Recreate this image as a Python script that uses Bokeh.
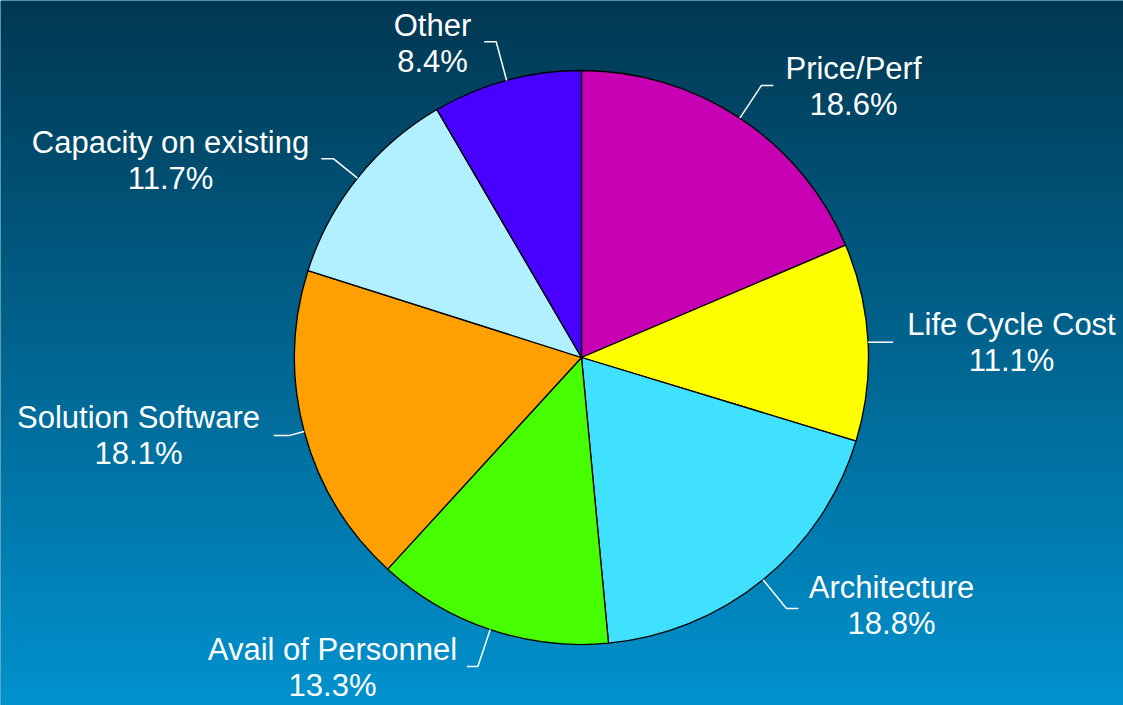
import numpy as np
from bokeh.plotting import figure
from bokeh.models import Range1d, ColumnDataSource
from bokeh.core.properties import value
from bokeh.embed import file_html
from bokeh.resources import INLINE

# ---- data ----
categories = ["Price/Perf", "Life Cycle Cost", "Architecture", "Avail of Personnel",
              "Solution Software", "Capacity on existing", "Other"]
shares = [18.6, 11.1, 18.8, 13.3, 18.1, 11.7, 8.4]
colors = ["#c800b4", "#ffff00", "#40e0ff", "#48ff00", "#ffa000", "#b0f0ff", "#4800ff"]

# ---- layout (page-pixel coordinates) ----
W, H = 1123, 705
CX, CY, R = 581, 357, 287
label_x = [853, 1011, 891, 332, 138, 170, 432]
label_base = [68, 324, 587, 649, 417, 142, 25]
line_gap = 36
leader_ext = [39, 0, 37, 39, 16, 31, 40]
leader_h = [12, 25, 12, -11, -15, -12, -12]

p = figure(width=W, height=H, output_backend="svg", toolbar_location=None,
           x_range=Range1d(0, W), y_range=Range1d(-H, 0),
           min_border=0)
p.axis.visible = False
p.grid.visible = False
p.outline_line_color = None
p.background_fill_color = "#00628f"
p.border_fill_color = "#00628f"

# gradient background
top = np.array([0, 56, 82])
bot = np.array([0, 146, 206])
t = np.linspace(0, 1, H)[:, None]  # row 0 = bottom
rgb = bot * (1 - t) + top * t
img = np.empty((H, 1), dtype=np.uint32)
view = img.view(dtype=np.uint8).reshape((H, 1, 4))
view[:, 0, 0] = rgb[:, 0]
view[:, 0, 1] = rgb[:, 1]
view[:, 0, 2] = rgb[:, 2]
view[:, 0, 3] = 255
p.image_rgba(image=[img], x=0, y=-H, dw=W, dh=H)

# wedges
cum = np.concatenate([[0], np.cumsum(shares)]) / 100.0
start = np.pi / 2 - 2 * np.pi * cum[:-1]
end = np.pi / 2 - 2 * np.pi * cum[1:]
src = ColumnDataSource(dict(start=start, end=end, color=colors, cat=categories))
p.wedge(x=CX, y=-CY, radius=R, start_angle="start", end_angle="end",
        direction="clock", fill_color="color", line_color="black",
        line_width=1.3, source=src)

# leader lines
mid = 2 * np.pi * (cum[:-1] + cum[1:]) / 2
xs, ys = [], []
for i, th in enumerate(mid):
    ex, ey = CX + R * np.sin(th), -CY + R * np.cos(th)
    rr = R + leader_ext[i]
    bx, by = CX + rr * np.sin(th), -CY + rr * np.cos(th)
    xs.append([ex, bx, bx + leader_h[i]])
    ys.append([ey, by, by])
p.multi_line(xs=xs, ys=ys, line_color="white", line_width=1.5)

# labels
pct = [f"{s:.1f}%" for s in shares]
p.text(x=label_x, y=[-b for b in label_base], text=categories,
       text_font=value("Liberation Sans"), text_font_size="31px",
       text_color="white", text_align="center", text_baseline="alphabetic")
p.text(x=label_x, y=[-(b + line_gap) for b in label_base], text=pct,
       text_font=value("Liberation Sans"), text_font_size="31px",
       text_color="white", text_align="center", text_baseline="alphabetic")

open("out.html", "w").write(file_html(p, INLINE))
